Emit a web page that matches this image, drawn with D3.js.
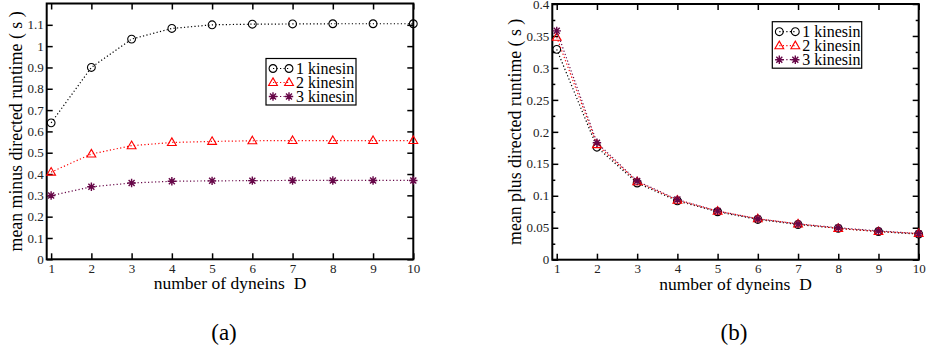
<!DOCTYPE html>
<html lang="en">
<head>
<meta charset="utf-8">
<script src="https://d3js.org/d3.v7.min.js"></script>
<style>
    body { margin: 0; background: white; }
</style>
</head>
<body>
<div id="chart"></div>
<script>
    // number of dyneins on the x axis
    const dyneins = [1, 2, 3, 4, 5, 6, 7, 8, 9, 10]

    // (a) mean minus directed runtime
    const minus1 = [0.640, 0.900, 1.033, 1.083, 1.100, 1.103, 1.104, 1.105, 1.105, 1.105]
    const minus2 = [0.409, 0.494, 0.533, 0.548, 0.553, 0.556, 0.557, 0.557, 0.557, 0.557]
    const minus3 = [0.299, 0.340, 0.358, 0.366, 0.368, 0.369, 0.370, 0.370, 0.370, 0.370]

    // (b) mean plus directed runtime
    const plus1 = [0.329, 0.176, 0.120, 0.092, 0.075, 0.063, 0.055, 0.049, 0.044, 0.040]
    const plus2 = [0.348, 0.180, 0.122, 0.093, 0.076, 0.064, 0.056, 0.049, 0.044, 0.041]
    const plus3 = [0.358, 0.183, 0.123, 0.094, 0.076, 0.064, 0.056, 0.050, 0.045, 0.041]

    const seriesNames = ["1 kinesin", "2 kinesin", "3 kinesin"]
    const minusTicks = [0, 0.1, 0.2, 0.3, 0.4, 0.5, 0.6, 0.7, 0.8, 0.9, 1, 1.1]
    const plusTicks = [0, 0.05, 0.1, 0.15, 0.2, 0.25, 0.3, 0.35, 0.4]
    const plusMinorTicks = [0.025, 0.075, 0.125, 0.175, 0.225, 0.275, 0.325, 0.375]

    const colors = ["#000000", "#ff0000", "#670748"]
    const shapes = ["circle", "triangle", "star"]

    const serif = "'Liberation Serif', 'Times New Roman', Times, serif"
    const width = 927
    const height = 352

    const svg = d3.select("div#chart").append("svg")
        .attr("width", width)
        .attr("height", height)

    function symbolPath(shape) {
        if (shape == "circle") return d3.arc()({innerRadius: 0, outerRadius: 3.9, startAngle: 0, endAngle: 2 * Math.PI})
        if (shape == "triangle") return "M0,-4.6L4.4,3L-4.4,3Z"
        const s = 4.2, a = 3
        return `M${-s},0L${s},0M0,${-s}L0,${s}M${-a},${-a}L${a},${a}M${-a},${a}L${a},${-a}`
    }

    function drawMarker(g, shape, color, x, y) {
        g.append("path")
            .attr("transform", `translate(${x},${y})`)
            .attr("d", symbolPath(shape))
            .attr("fill", "none")
            .attr("stroke", color)
            .attr("stroke-width", shape == "star" ? 1.4 : 1.1)
    }

    function drawPanel(p) {
        const g = svg.append("g")
        const x = d3.scaleLinear().domain([0.89, 10]).range([p.left, p.right])
        const y = d3.scaleLinear().domain(p.yDomain).range([p.bottom, p.top])

        // bottom axis with labels, ticks pointing inward
        const bx = g.append("g")
            .attr("transform", "translate(0," + p.bottom + ")")
            .call(d3.axisBottom(x).tickValues(dyneins).tickSizeInner(-6).tickSizeOuter(0).tickPadding(4))
        // top axis, ticks only
        const tx = g.append("g")
            .attr("transform", "translate(0," + p.top + ")")
            .call(d3.axisTop(x).tickValues(dyneins).tickSizeInner(-6).tickSizeOuter(0).tickFormat(""))
        // left axis
        const ly = g.append("g")
            .attr("transform", "translate(" + p.left + ",0)")
            .call(d3.axisLeft(y).tickValues(p.yTicks).tickSizeInner(-6).tickSizeOuter(0).tickPadding(3).tickFormat(d3.format("~g")))
        const ry = g.append("g")
            .attr("transform", "translate(" + p.right + ",0)")
            .call(d3.axisRight(y).tickValues(p.yTicks).tickSizeInner(-6).tickSizeOuter(0).tickFormat(""))
        const axes = [bx, tx, ly, ry]
        if (p.minor) {
            axes.push(g.append("g")
                .attr("transform", "translate(" + p.left + ",0)")
                .call(d3.axisLeft(y).tickValues(p.minor).tickSizeInner(-3).tickSizeOuter(0).tickFormat("")))
            axes.push(g.append("g")
                .attr("transform", "translate(" + p.right + ",0)")
                .call(d3.axisRight(y).tickValues(p.minor).tickSizeInner(-3).tickSizeOuter(0).tickFormat("")))
        }
        axes.forEach(a => {
            a.select(".domain").remove()
            a.selectAll(".tick line").attr("stroke", "black").attr("stroke-width", 1.5)
            a.selectAll(".tick text")
                .style("font-family", serif)
                .style("font-size", "13px")
                .attr("fill", "#222")
        })

        // frame
        g.append("rect")
            .attr("x", p.left).attr("y", p.top)
            .attr("width", p.right - p.left).attr("height", p.bottom - p.top)
            .attr("fill", "none").attr("stroke", "black").attr("stroke-width", 2)

        // series
        const line = d3.line().x((d, i) => x(dyneins[i])).y(d => y(d))
        p.series.forEach((s, k) => {
            g.append("path")
                .attr("d", line(s))
                .attr("fill", "none")
                .attr("stroke", colors[k])
                .attr("stroke-width", 1.2)
                .attr("stroke-dasharray", "1.2,2.3")
            s.forEach((v, i) => drawMarker(g, shapes[k], colors[k], x(dyneins[i]), y(v)))
        })

        // axis titles
        g.append("text")
            .attr("x", (p.left + p.right) / 2)
            .attr("y", p.bottom + 30)
            .attr("text-anchor", "middle")
            .style("font-family", serif)
            .style("font-size", "17.5px")
            .style("white-space", "pre")
            .text("number of dyneins  D")
        g.append("text")
            .attr("transform", `translate(${p.titleX},${(p.top + p.bottom) / 2}) rotate(-90)`)
            .attr("text-anchor", "middle")
            .style("font-family", serif)
            .style("font-size", "17.8px")
            .text(p.yTitle)

        // legend
        const lg = g.append("g").attr("transform", `translate(${p.legX},${p.legY})`)
        lg.append("rect")
            .attr("x", 0).attr("y", 0).attr("width", p.legW).attr("height", 46.5)
            .attr("fill", "white").attr("stroke", "black").attr("stroke-width", 1.2)
        seriesNames.forEach((name, k) => {
            const cy = 10 + k * 14
            lg.append("line")
                .attr("x1", 7).attr("x2", 23).attr("y1", cy).attr("y2", cy)
                .attr("stroke", colors[k]).attr("stroke-width", 1.2).attr("stroke-dasharray", "1.2,2.3")
            drawMarker(lg, shapes[k], colors[k], 7, cy)
            drawMarker(lg, shapes[k], colors[k], 23, cy)
            lg.append("text")
                .attr("x", 30).attr("y", cy + 5)
                .style("font-family", serif)
                .style("font-size", "16px")
                .text(name)
        })

        // sub caption
        g.append("text")
            .attr("x", p.capX)
            .attr("y", 340)
            .attr("text-anchor", "middle")
            .style("font-family", serif)
            .style("font-size", "23px")
            .text(p.caption)
    }

    drawPanel({
        left: 46.7, right: 413.3, top: 3.5, bottom: 259.3,
        yDomain: [0, 1.2], yTicks: minusTicks, minor: null,
        series: [minus1, minus2, minus3],
        yTitle: "mean minus directed runtime ( s )", titleX: 22,
        legX: 266, legY: 58.5, legW: 90,
        caption: "(a)", capX: 224
    })

    drawPanel({
        left: 552.3, right: 918.7, top: 4, bottom: 259.7,
        yDomain: [0, 0.4], yTicks: plusTicks, minor: plusMinorTicks,
        series: [plus1, plus2, plus3],
        yTitle: "mean plus directed runtime ( s )", titleX: 521,
        legX: 772.3, legY: 21.7, legW: 89.4,
        caption: "(b)", capX: 734
    })
</script>
</body>
</html>
